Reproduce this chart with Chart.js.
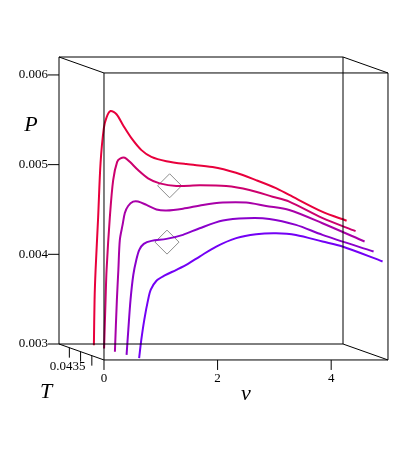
<!DOCTYPE html>
<html>
<head>
<meta charset="utf-8">
<script src="https://cdn.jsdelivr.net/npm/chart.js@4.4.1/dist/chart.umd.min.js"></script>
<style>
  html, body { margin: 0; padding: 0; background: #fff; }
  canvas { display: block; }
</style>
</head>
<body>
<canvas id="pvChart" width="396" height="464"></canvas>
<script>
// Isothermes P(v) a cinq temperatures
const temps = [0.0443, 0.0439, 0.0435, 0.0431, 0.0427];
const colors = ['#e8003c', '#cc006e', '#a800a8', '#8a00cc', '#7300f5'];

const v1 = [0.551, 0.563, 0.581, 0.626, 0.668, 0.726, 0.774, 0.844, 0.949, 1.065, 1.212, 1.388, 1.563, 1.826, 2.177, 2.639, 3.053, 3.405, 3.756, 3.989, 4.568, 5.0];
const p1 = [0.003, 0.003509, 0.003842, 0.004431, 0.005031, 0.00542, 0.005542, 0.005612, 0.005576, 0.005453, 0.005309, 0.005176, 0.005101, 0.005053, 0.00502, 0.004987, 0.004923, 0.004842, 0.004753, 0.004676, 0.00449, 0.004389];

const v2 = [0.572, 0.598, 0.616, 0.674, 0.732, 0.802, 0.861, 0.937, 1.025, 1.17, 1.346, 1.551, 1.844, 2.253, 2.721, 3.13, 3.539, 3.832, 4.411, 5.0];
const p2 = [0.003, 0.003544, 0.003878, 0.00447, 0.004878, 0.005081, 0.005119, 0.005126, 0.005081, 0.004989, 0.004897, 0.004841, 0.004811, 0.004819, 0.004811, 0.004767, 0.004692, 0.004637, 0.004456, 0.004308];

const v3 = [0.604, 0.639, 0.665, 0.691, 0.739, 0.779, 0.837, 0.925, 1.012, 1.16, 1.335, 1.511, 1.802, 2.153, 2.504, 2.914, 3.265, 3.674, 4.258, 5.0];
const p3 = [0.003, 0.00358, 0.003913, 0.004247, 0.004413, 0.004547, 0.004624, 0.004672, 0.004674, 0.004636, 0.004586, 0.004574, 0.004594, 0.004636, 0.004663, 0.004663, 0.004624, 0.00458, 0.004432, 0.004228];

const v4 = [0.651, 0.682, 0.721, 0.77, 0.823, 0.875, 0.954, 1.089, 1.353, 1.644, 1.937, 2.346, 2.756, 3.165, 3.633, 4.1, 5.0];
const p4 = [0.003, 0.003282, 0.003616, 0.003893, 0.00406, 0.004171, 0.004238, 0.004271, 0.004293, 0.004338, 0.004412, 0.004497, 0.004523, 0.004516, 0.004449, 0.004338, 0.004152];

const v5 = [0.714, 0.753, 0.805, 0.872, 0.919, 1.019, 1.165, 1.37, 1.574, 1.779, 2.072, 2.423, 2.774, 3.125, 3.475, 3.942, 4.293, 5.0];
const p5 = [0.003, 0.003207, 0.003429, 0.003651, 0.003762, 0.003862, 0.003921, 0.003984, 0.004051, 0.004132, 0.004243, 0.004337, 0.004381, 0.004392, 0.004373, 0.004299, 0.004243, 0.004077];

// Points marques (losanges)
const markV = [1.726, 1.363];
const markP = [0.004814, 0.004257];
const markT = [0.0439, 0.0431];

// Graduations
const pTicks = [0.003, 0.004, 0.005, 0.006];
const vTicks = [0, 2, 4];
const tTicks = [0.0440, 0.0435, 0.0430];
const tTickLabels = ['', '0.0435', ''];

// Boite 3D : plans arriere / avant
const V_MIN = 0, V_MAX = 5;
const P_MIN = 0.003, P_MAX = 0.0062;
const T_BACK = 0.04446, T_FRONT = 0.04246;
const DV = 0.792;        // decalage en v du plan arriere au plan avant
const DP = -0.000178;    // decalage en P du plan arriere au plan avant

function depth(t) {
    return (T_BACK - t) / (T_BACK - T_FRONT);
}

function project(v, p, d) {
    return { x: v + d * DV, y: p + d * DP };
}

const curvesV = [v1, v2, v3, v4, v5];
const curvesP = [p1, p2, p3, p4, p5];

const datasets = curvesV.map(function(vs, i) {
    const d = depth(temps[i]);
    return {
        label: 'T = ' + temps[i],
        data: vs.map((v, k) => project(v, curvesP[i][k], d)),
        showLine: true,
        borderColor: colors[i],
        borderWidth: 2,
        pointRadius: 0,
        tension: 0.3,
        clip: false
    };
});

datasets.push({
    label: 'points',
    data: markV.map((v, k) => project(v, markP[k], depth(markT[k]))),
    showLine: false,
    pointStyle: 'rectRot',
    pointRadius: 12,
    pointBorderColor: '#8c8c8c',
    pointBackgroundColor: 'rgba(0,0,0,0)',
    pointBorderWidth: 1,
    clip: false
});

// Dessin du cadre, des axes et des textes
const boxPlugin = {
    id: 'box3d',
    afterDatasetsDraw(chart) {
        const ctx = chart.ctx;
        const xs = chart.scales.x, ys = chart.scales.y;
        function px(v, p, d) {
            const q = project(v, p, d);
            return [xs.getPixelForValue(q.x), ys.getPixelForValue(q.y)];
        }
        function seg(a, b) {
            ctx.moveTo(a[0], a[1]);
            ctx.lineTo(b[0], b[1]);
        }
        ctx.save();
        ctx.strokeStyle = '#000';
        ctx.lineWidth = 1;
        ctx.beginPath();
        const corners = [];
        [0, 1].forEach(function(d) {
            const c = [px(V_MIN, P_MAX, d), px(V_MAX, P_MAX, d), px(V_MAX, P_MIN, d), px(V_MIN, P_MIN, d)];
            corners.push(c);
            for (let k = 0; k < 4; k++) seg(c[k], c[(k + 1) % 4]);
        });
        for (let k = 0; k < 4; k++) seg(corners[0][k], corners[1][k]);

        // graduations P (arete arriere gauche)
        pTicks.forEach(function(p) {
            const a = px(V_MIN, p, 0);
            seg([a[0] - 11, a[1]], a);
        });
        // graduations v (arete avant basse)
        vTicks.forEach(function(v) {
            const a = px(v, P_MIN, 1);
            seg(a, [a[0], a[1] + 10]);
        });
        // graduations T (arete basse gauche)
        tTicks.forEach(function(t) {
            const a = px(V_MIN, P_MIN, depth(t));
            seg(a, [a[0], a[1] + 10]);
        });
        ctx.stroke();

        ctx.fillStyle = '#000';
        ctx.font = '13px "Liberation Serif", serif';
        ctx.textBaseline = 'middle';
        ctx.textAlign = 'right';
        pTicks.forEach(function(p) {
            const a = px(V_MIN, p, 0);
            ctx.fillText(p.toFixed(3), a[0] - 11, a[1]);
        });
        ctx.textAlign = 'center';
        vTicks.forEach(function(v) {
            const a = px(v, P_MIN, 1);
            ctx.fillText(String(v), a[0], a[1] + 19);
        });
        ctx.textAlign = 'right';
        tTicks.forEach(function(t, k) {
            const a = px(V_MIN, P_MIN, depth(t));
            ctx.fillText(tTickLabels[k], a[0] + 5, a[1] + 15);
        });

        // titres des axes
        ctx.font = 'italic 22px "Liberation Serif", serif';
        ctx.textAlign = 'center';
        ctx.fillText('P', 31, 125);
        ctx.fillText('T', 46, 392);
        ctx.fillText('v', 246, 394);
        ctx.restore();
    }
};

const pvCtx = document.getElementById('pvChart').getContext('2d');
const pvChart = new Chart(pvCtx, {
    type: 'scatter',
    data: { datasets: datasets },
    options: {
        responsive: false,
        animation: false,
        layout: {
            padding: { left: 59, right: 53, top: 57, bottom: 120 }
        },
        plugins: {
            legend: { display: false },
            tooltip: { enabled: false }
        },
        scales: {
            x: { type: 'linear', min: V_MIN, max: V_MAX, display: false },
            y: { type: 'linear', min: P_MIN, max: P_MAX, display: false }
        }
    },
    plugins: [boxPlugin]
});
</script>
</body>
</html>
